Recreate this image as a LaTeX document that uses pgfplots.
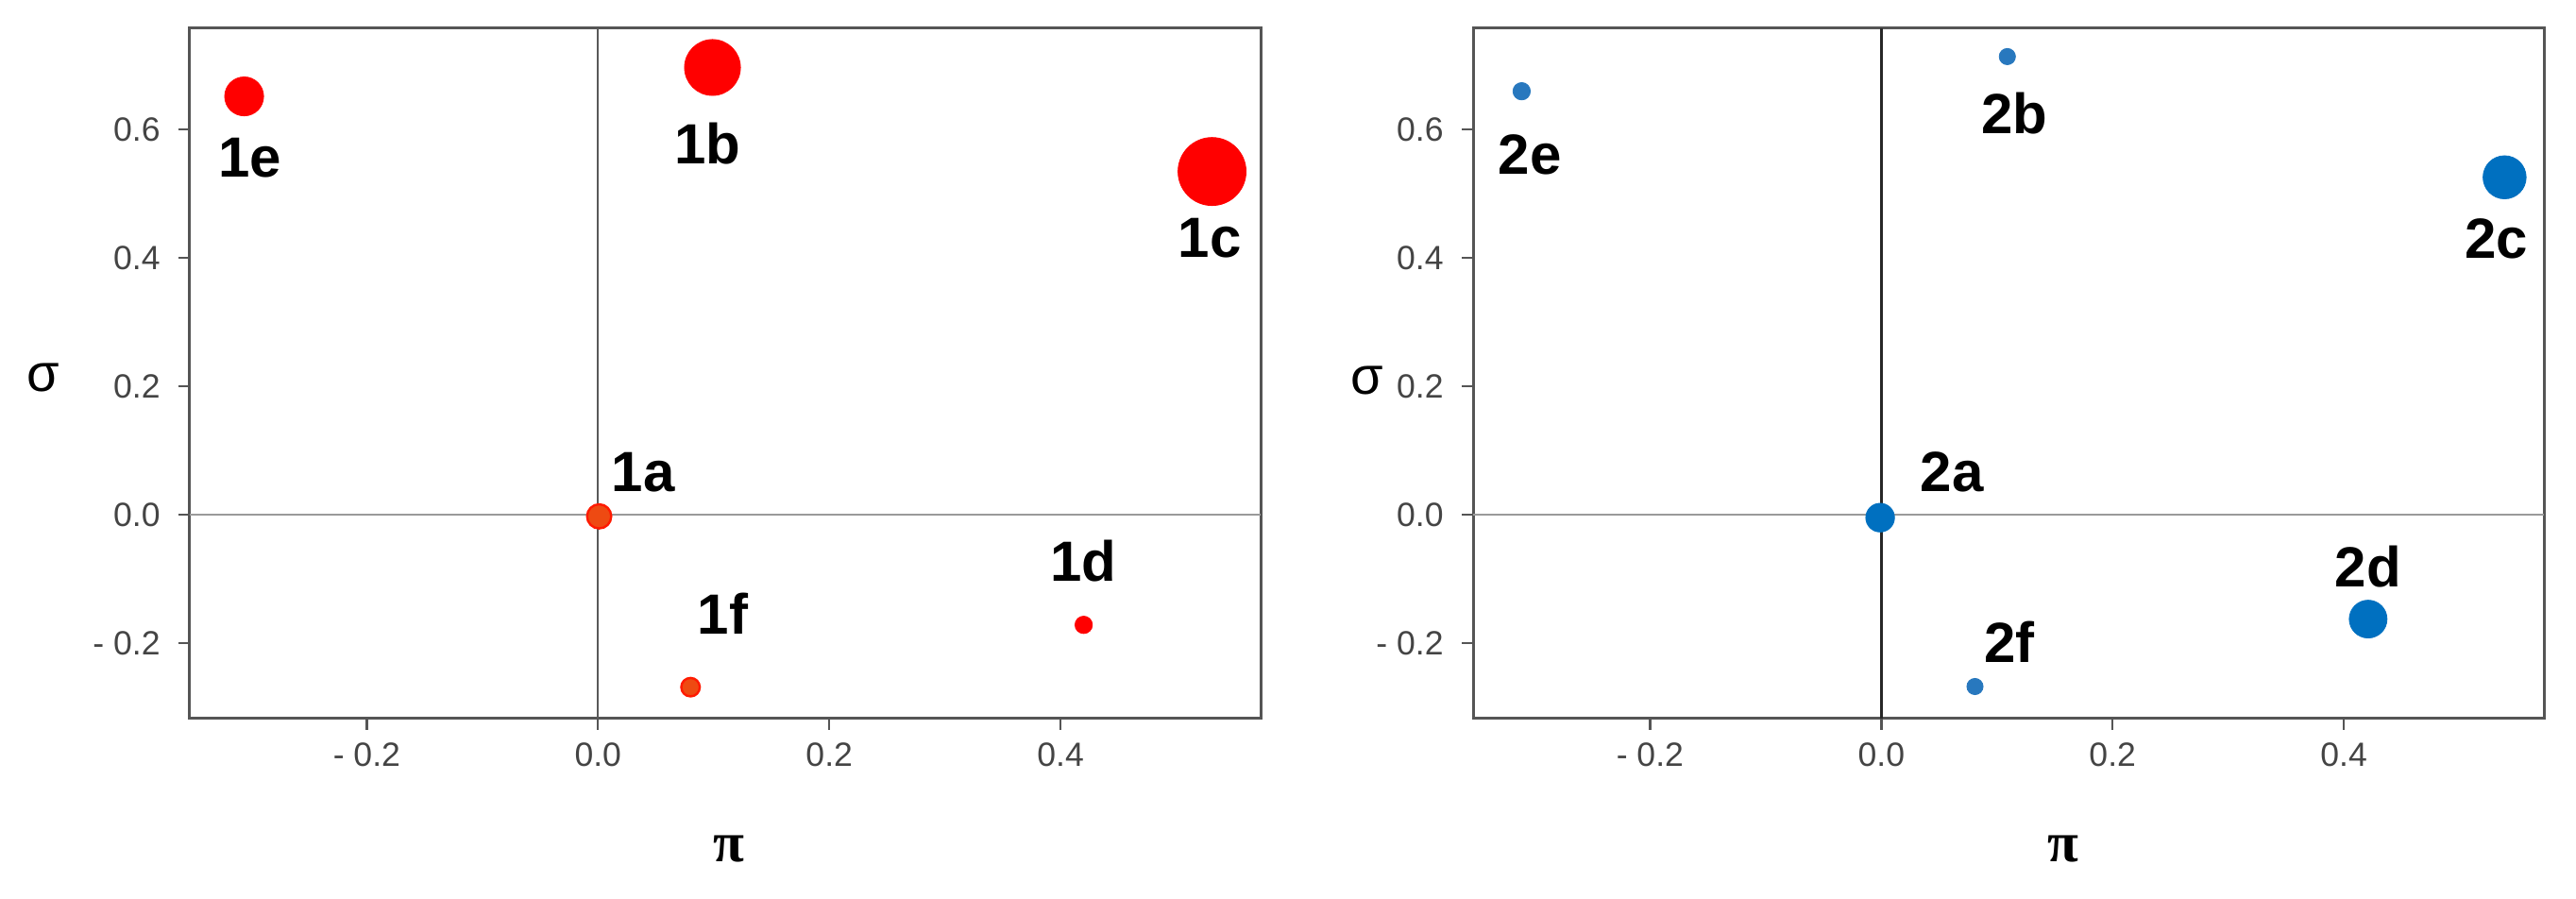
\documentclass[border=0pt]{standalone}
\usepackage{fontspec}
\setmainfont{Liberation Sans}
\newfontfamily\serifpi{Liberation Serif}
\usepackage{pgfplots}
\pgfplotsset{compat=1.18}

\definecolor{redA}{HTML}{FF0000}
\definecolor{orangeA}{HTML}{EE4A12}
\definecolor{edgeA}{HTML}{FF1A00}
\definecolor{blueBig}{HTML}{0070C0}
\definecolor{blueSmall}{HTML}{2878BE}
\definecolor{axisgrey}{HTML}{555555}
\definecolor{ticktext}{HTML}{444444}
\definecolor{zeroH}{HTML}{9A9A9A}

\tikzset{lab/.style={font=\fontsize{15}{18}\selectfont\bfseries, inner sep=0pt, anchor=center}}

\pgfplotsset{
  pt/.style={only marks, mark=*, color=#1, mark options={fill=#1, draw=#1, line width=0.2pt}},
  myaxis/.style={
    scale only axis,
    width=283.5pt, height=182.75pt,
    xmin=-0.353, xmax=0.573, ymin=-0.318, ymax=0.757,
    xtick={-0.2,0,0.2,0.4}, xticklabels={- 0.2,0.0,0.2,0.4},
    ytick={-0.2,0,0.2,0.4,0.6}, yticklabels={- 0.2,0.0,0.2,0.4,0.6},
    /pgf/number format/assume math mode=true,
    tick align=outside, tick pos=left,
    major tick length=3pt,
    tick style={axisgrey, line width=0.6pt},
    axis line style={axisgrey, line width=0.75pt},
    ticklabel style={font=\fontsize{8.9}{10}\selectfont, text=ticktext},
    yticklabel style={xshift=-1.3pt},
    every axis y label/.style={at={(axis description cs:0,0.5)}, anchor=center, font=\fontsize{14}{16}\selectfont},
    every axis x label/.style={at={(axis description cs:0.5,0)}, anchor=center, yshift=-34.5pt, font=\serifpi\bfseries\fontsize{15}{17}\selectfont},
  }
}

\begin{document}
\begin{tikzpicture}
\path[use as bounding box] (0,0) rectangle (682pt,238pt);

% ---------------- left panel ----------------
\begin{axis}[myaxis, at={(50.25pt,47.75pt)}, anchor=south west,
  ylabel={σ}, xlabel={π},
  ylabel style={xshift=-38.75pt, yshift=-1.2pt},
  xlabel style={xshift=1pt}]
\addplot[zeroH, line width=0.6pt, mark=none] coordinates {(-0.353,0) (0.573,0)};
\addplot[black!65, line width=0.6pt, mark=none] coordinates {(0,-0.318) (0,0.757)};
% points
\addplot[only marks, mark=*, color=edgeA, mark size=3.2pt, mark options={fill=orangeA, draw=edgeA, line width=0.6pt}] coordinates {(0.001,-0.003)};
\addplot[pt=redA, mark size=7.4pt] coordinates {(0.099,0.696)};
\addplot[pt=redA, mark size=9.0pt] coordinates {(0.531,0.534)};
\addplot[pt=redA, mark size=2.3pt] coordinates {(0.420,-0.172)};
\addplot[pt=redA, mark size=5.15pt] coordinates {(-0.306,0.651)};
\addplot[only marks, mark=*, color=edgeA, mark size=2.45pt, mark options={fill=orangeA, draw=edgeA, line width=0.6pt}] coordinates {(0.080,-0.269)};
% labels
\node[lab] at (axis cs:0.039,0.066) {1a};
\node[lab] at (axis cs:0.095,0.578) {1b};
\node[lab] at (axis cs:0.529,0.431) {1c};
\node[lab] at (axis cs:0.420,-0.072) {1d};
\node[lab] at (axis cs:-0.301,0.556) {1e};
\node[lab] at (axis cs:0.108,-0.154) {1f};
\end{axis}

% ---------------- right panel ----------------
\begin{axis}[myaxis, at={(390pt,47.75pt)}, anchor=south west,
  ylabel={σ}, xlabel={π},
  ylabel style={xshift=-28pt, yshift=-1.9pt},
  xlabel style={xshift=14.6pt}]
\addplot[zeroH, line width=0.6pt, mark=none] coordinates {(-0.353,0) (0.573,0)};
\addplot[black!85, line width=0.6pt, mark=none] coordinates {(0,-0.318) (0,0.757)};
% points
\addplot[pt=blueBig, mark size=3.8pt] coordinates {(-0.001,-0.005)};
\addplot[pt=blueSmall, mark size=2.15pt] coordinates {(0.109,0.713)};
\addplot[pt=blueBig, mark size=5.7pt] coordinates {(0.539,0.525)};
\addplot[pt=blueBig, mark size=5.0pt] coordinates {(0.421,-0.163)};
\addplot[pt=blueSmall, mark size=2.3pt] coordinates {(-0.311,0.659)};
\addplot[pt=blueSmall, mark size=2.15pt] coordinates {(0.081,-0.268)};
% labels
\node[lab] at (axis cs:0.061,0.066) {2a};
\node[lab] at (axis cs:0.115,0.624) {2b};
\node[lab] at (axis cs:0.532,0.429) {2c};
\node[lab] at (axis cs:0.421,-0.082) {2d};
\node[lab] at (axis cs:-0.304,0.560) {2e};
\node[lab] at (axis cs:0.111,-0.199) {2f};
\end{axis}
\end{tikzpicture}
\end{document}
